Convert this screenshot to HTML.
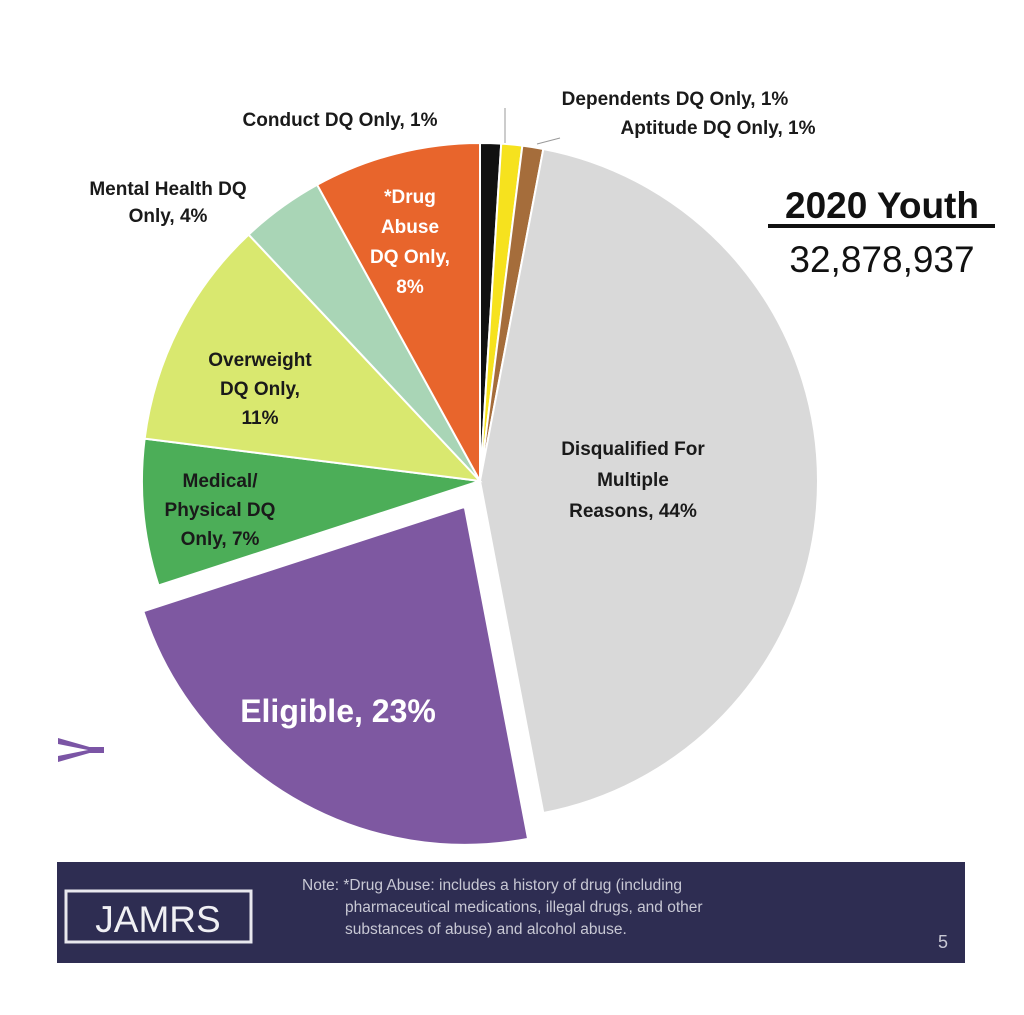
<!DOCTYPE html>
<html><head><meta charset="utf-8"><style>
html,body{margin:0;padding:0;background:#fff;}
svg{display:block;font-family:"Liberation Sans",Arial,sans-serif;}
</style></head><body>
<svg id="s" width="1024" height="1015" viewBox="0 0 1024 1015" xmlns="http://www.w3.org/2000/svg">
<rect width="1024" height="1015" fill="#fff"/>
<g id="pie"></g>
<g font-weight="bold" font-size="19" fill="#1a1a1a" text-anchor="middle">
<text x="340" y="126">Conduct DQ Only, 1%</text>
<text x="675" y="105">Dependents DQ Only, 1%</text>
<text x="718" y="134">Aptitude DQ Only, 1%</text>
<text x="168" y="195">Mental Health DQ</text>
<text x="168" y="222">Only, 4%</text>
<text x="260" y="366">Overweight</text>
<text x="260" y="395">DQ Only,</text>
<text x="260" y="424">11%</text>
<text x="220" y="487">Medical/</text>
<text x="220" y="516">Physical DQ</text>
<text x="220" y="545">Only, 7%</text>
<text x="633" y="455">Disqualified For</text>
<text x="633" y="486">Multiple</text>
<text x="633" y="517">Reasons, 44%</text>
</g>
<g font-weight="bold" font-size="19" fill="#fff" text-anchor="middle">
<text x="410" y="203">*Drug</text>
<text x="410" y="233">Abuse</text>
<text x="410" y="263">DQ Only,</text>
<text x="410" y="293">8%</text>
<text x="338" y="722" font-size="32">Eligible, 23%</text>
</g>
<line x1="505" y1="108" x2="505" y2="143" stroke="#999" stroke-width="1"/>
<line x1="537" y1="144" x2="560" y2="138" stroke="#999" stroke-width="1"/>
<text x="882" y="218" font-size="37" font-weight="bold" text-anchor="middle" fill="#111">2020 Youth</text>
<rect x="768" y="224" width="227" height="4" fill="#111"/>
<text x="882" y="272" font-size="37" text-anchor="middle" fill="#111">32,878,937</text>
<path d="M58 738 L100 750 L58 762 L58 756 L88 750 L58 744Z M88 747 H104 V753 H88Z" fill="#7b55a5"/>
<rect x="57" y="862" width="908" height="101" fill="#2e2d52"/>
<rect x="66" y="891" width="185" height="51" fill="none" stroke="#e8e8ee" stroke-width="3"/>
<text x="158" y="932" font-size="37" fill="#f0f0f4" text-anchor="middle">JAMRS</text>
<g font-size="15.5" fill="#c8c8d4">
<text x="302" y="890">Note: *Drug Abuse: includes a history of drug (including</text>
<text x="345" y="912">pharmaceutical medications, illegal drugs, and other</text>
<text x="345" y="934">substances of abuse) and alcohol abuse.</text>
</g>
<text x="943" y="948" font-size="18" fill="#c8c8d4" text-anchor="middle">5</text>
</svg>
<script>
var cx=480,cy=481,r=338;
var sl=[[0,3.6,"#111111"],[3.6,7.2,"#f6e21e"],[7.2,10.8,"#a56d3b"],[10.8,169.2,"#d9d9d9"],[169.2,252,"#7e58a1",1],[252,277.2,"#4cae58"],[277.2,316.8,"#d9e86f"],[316.8,331.2,"#a9d5b6"],[331.2,360,"#e8652c"]];
var g=document.getElementById("pie"),h="";
function pt(a,x,y){var t=a*Math.PI/180;return [x+r*Math.sin(t),y-r*Math.cos(t)];}
sl.forEach(function(s){var x=cx,y=cy;if(s[3]){var m=(s[0]+s[1])/2*Math.PI/180;x+=30*Math.sin(m);y-=30*Math.cos(m);}
var p=pt(s[0],x,y),q=pt(s[1],x,y),lg=(s[1]-s[0])>180?1:0;
h+='<path d="M'+x+' '+y+' L'+p[0]+' '+p[1]+' A'+r+' '+r+' 0 '+lg+' 1 '+q[0]+' '+q[1]+'Z" fill="'+s[2]+'" stroke="#fff" stroke-width="2"/>';});
g.innerHTML=h;
</script>
</body></html>
